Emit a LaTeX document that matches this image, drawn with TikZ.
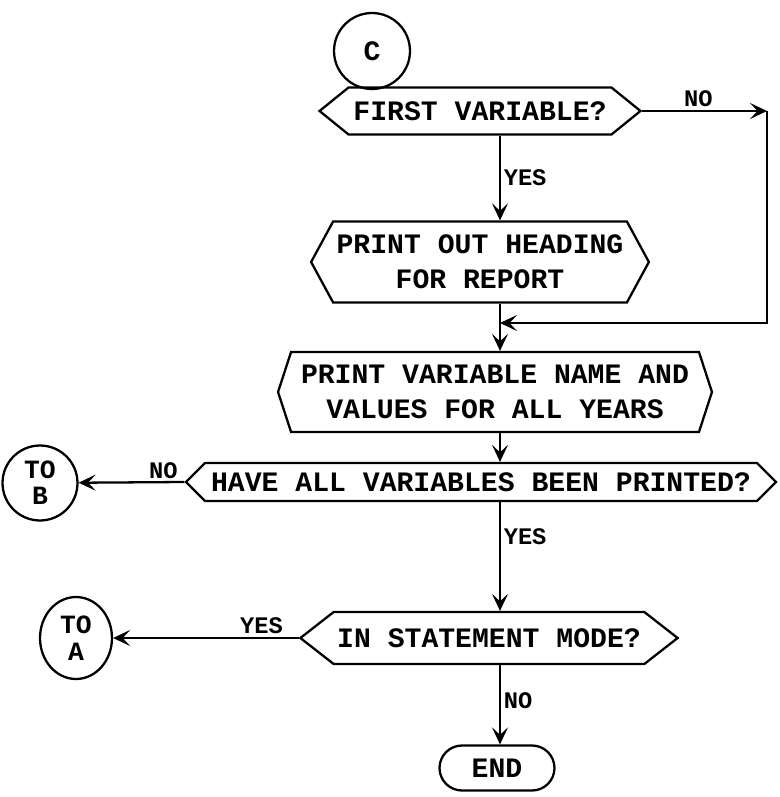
\documentclass[tikz,border=0pt]{standalone}
\usepackage{fontspec}
\setmonofont{Liberation Mono}
\usetikzlibrary{arrows.meta,shapes.geometric,shapes.symbols}
\newcommand{\flowfont}{\ttfamily\bfseries\fontsize{16}{20}\selectfont}
\newcommand{\tagfont}{\ttfamily\bfseries\fontsize{13.5}{14}\selectfont}

\begin{document}
\begin{tikzpicture}[
  x=0.02cm, y=-0.02cm, line width=1.3pt,
  hexbox/.style={draw, shape=signal, signal to=east and west, align=center,
                 inner xsep=2pt, inner ysep=0pt, font=\flowfont},
  conn/.style={draw, ellipse, inner sep=0pt, align=center,
               font=\ttfamily\bfseries\fontsize{15}{15}\selectfont},
  ar/.style={-{Stealth[length=3.4mm,width=3.2mm,inset=1.5mm]}},
  tag/.style={font=\tagfont, inner sep=1.5pt},
]
  \useasboundingbox (0,0) rectangle (779,797);

  \node[conn, minimum size=1.52cm, font=\flowfont] (c) at (372,51) {C};
  \node[hexbox, minimum width=6.42cm, minimum height=0.94cm,
        signal pointer angle=78] (first) at (480,111) {FIRST VARIABLE?};
  \node[hexbox, minimum width=6.7cm, minimum height=1.62cm,
        signal pointer angle=123] (heading) at (480,262)
        {PRINT OUT HEADING\\FOR REPORT};
  \node[hexbox, minimum width=8.68cm, minimum height=1.6cm,
        signal pointer angle=144] (vars) at (495,392)
        {PRINT VARIABLE NAME AND\\VALUES FOR ALL YEARS};
  \node[hexbox, minimum width=11.8cm, minimum height=0.76cm,
        signal pointer angle=90] (all) at (481,482)
        {HAVE ALL VARIABLES BEEN PRINTED?};
  \node[hexbox, minimum width=7.48cm, minimum height=1.04cm,
        signal pointer angle=76] (stmt) at (489,638) {IN STATEMENT MODE?};
  \node[draw, rounded corners=0.45cm, minimum width=2.3cm, minimum height=0.9cm,
        font=\flowfont] (fin) at (497,768) {END};

  \node[conn, minimum size=1.5cm] (tob) at (40,483) {TO\\B};
  \node[conn, minimum width=1.44cm, minimum height=1.64cm] (toa) at (76,638) {TO\\A};

  \coordinate (spine) at (500,0);
  \coordinate (noturn) at (767,111);
  \coordinate (join) at (500,323);

  \draw[ar] (first.east) -- node[tag, above, pos=0.45]{NO} (noturn);
  \draw[ar] (noturn) -- (noturn |- join) -- (join);
  \draw[ar] (first.south -| spine) -- node[tag, right]{YES} (heading.north -| spine);
  \draw[ar] (heading.south -| spine) -- (vars.north -| spine);
  \draw[ar] (vars.south -| spine) -- (all.north -| spine);
  \draw[ar] (all.west) -- node[tag, above, pos=0.2]{NO} (tob);
  \draw[ar] (all.south -| spine) -- node[tag, right, pos=0.32]{YES} (stmt.north -| spine);
  \draw[ar] (stmt.west) -- node[tag, above, pos=0.2]{YES} (toa);
  \draw[ar] (stmt.south -| spine) -- node[tag, right, pos=0.45]{NO} (fin.north -| spine);
\end{tikzpicture}
\end{document}
